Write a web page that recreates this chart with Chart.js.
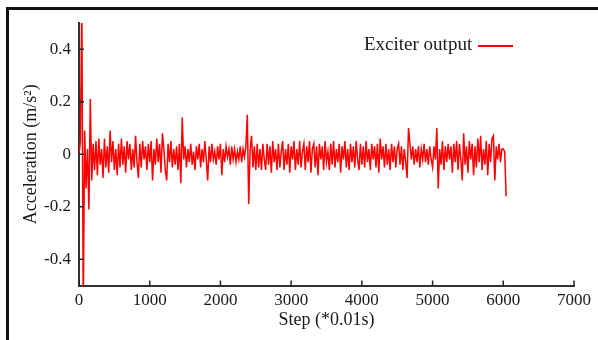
<!DOCTYPE html>
<html>
<head>
<meta charset="utf-8">
<script src="https://cdn.jsdelivr.net/npm/chart.js@4"></script>
<style>
  body { margin: 0; background: #fff; }
  #wrap { position: relative; width: 598px; height: 340px; overflow: hidden; }
  #frame { position: absolute; left: 6px; top: 7px; width: 600px; height: 340px;
           border-left: 3px solid #111; border-top: 3px solid #111; }
  #chart { position: absolute; left: 0; top: 0; }
  #legend { position: absolute; left: 364px; top: 33px; font: 19px 'Liberation Serif', serif; color: #1a1a1a; white-space: nowrap; }
  #legend .swatch { display: inline-block; width: 35px; height: 2px; background: #ff0000; vertical-align: middle; margin-left: 6px; }
</style>
</head>
<body>
<div id="wrap">
  <div id="frame"></div>
  <canvas id="chart" width="598" height="340"></canvas>
  <div id="legend"><span id="legendText"></span><span class="swatch"></span></div>
</div>
<script>
// sample spacing of the recorded signal, in steps
const stepInterval = 20;

// acceleration, one value every 20 steps (0 .. 6040)
const acceleration = [
  0.00, 0.05, 0.60, -0.60, 0.09, -0.13, 0.02, -0.21, 0.21, -0.10,
  0.04, -0.06, 0.05, -0.08, 0.06, -0.04, 0.02, -0.09, 0.06, -0.05,
  0.03, -0.07, 0.09, -0.03, 0.05, -0.06, 0.02, -0.08, 0.04, -0.05,
  0.06, -0.04, 0.03, -0.07, 0.05, -0.02, 0.04, -0.06, 0.02, -0.05,
  0.07, -0.03, -0.09, 0.04, -0.05, 0.05, -0.02, 0.03, -0.06, 0.04,
  -0.03, 0.05, -0.10, 0.02, -0.04, 0.06, -0.03, 0.04, -0.07, 0.08,
  0.02, -0.06, -0.10, 0.04, -0.03, 0.05, -0.05, 0.02, -0.04, 0.03,
  -0.06, 0.04, -0.11, 0.14, -0.02, 0.03, -0.05, 0.02, -0.03, 0.04,
  -0.04, 0.01, -0.06, 0.03, -0.02, 0.04, -0.05, 0.02, -0.03, 0.05,
  -0.02, -0.10, 0.03, -0.03, 0.04, -0.02, 0.01, -0.04, 0.03, -0.02,
  0.04, -0.08, 0.02, -0.03, 0.03, -0.01, 0.02, -0.04, 0.03, -0.02,
  0.02, -0.03, 0.01, -0.02, 0.03, -0.03, 0.02, -0.01, 0.03, 0.15,
  -0.19, 0.02, 0.07, -0.05, 0.03, -0.06, 0.04, -0.05, 0.02, -0.06,
  0.04, -0.02, -0.06, 0.04, -0.04, 0.03, -0.07, 0.05, -0.03, 0.02,
  -0.06, 0.04, -0.05, 0.01, 0.05, -0.06, 0.02, -0.04, 0.04, -0.07,
  0.03, -0.02, 0.05, -0.06, 0.02, -0.04, 0.05, -0.05, 0.01, 0.04,
  -0.06, 0.03, -0.03, 0.05, -0.07, 0.02, 0.04, -0.05, 0.03, -0.08,
  0.04, -0.02, 0.03, -0.06, 0.05, -0.03, 0.01, -0.06, 0.04, -0.04,
  0.05, -0.05, 0.02, -0.03, 0.04, -0.07, 0.03, -0.02, 0.05, -0.05,
  0.02, -0.06, 0.04, -0.03, 0.03, -0.05, 0.05, -0.02, -0.06, 0.04,
  -0.04, 0.03, -0.05, 0.05, -0.03, 0.02, -0.06, 0.04, -0.02, 0.03,
  -0.05, 0.04, -0.07, 0.06, -0.02, 0.03, -0.05, 0.04, -0.04, 0.02,
  -0.06, 0.04, -0.03, 0.03, -0.05, 0.02, 0.04, -0.04, 0.03, -0.06,
  0.02, -0.03, -0.09, 0.10, 0.04, -0.02, 0.03, -0.04, 0.02, -0.03,
  0.03, -0.05, 0.02, -0.02, 0.04, -0.03, 0.02, -0.04, 0.03, -0.02,
  -0.05, 0.03, -0.02, 0.10, -0.13, 0.02, -0.04, 0.05, -0.06, 0.03,
  -0.03, 0.04, -0.02, 0.03, -0.07, 0.04, -0.03, 0.05, -0.06, 0.04,
  -0.02, -0.10, 0.08, -0.04, 0.03, -0.07, 0.05, -0.02, 0.04, -0.08,
  0.03, -0.05, 0.06, -0.03, 0.07, -0.06, 0.02, -0.04, 0.05, -0.08,
  0.04, -0.03, 0.06, 0.07, -0.10, 0.03, -0.02, 0.04, -0.03, 0.02,
  0.02, 0.01, -0.16
];

const seriesName = 'Exciter output';
const xTicks = [0, 1000, 2000, 3000, 4000, 5000, 6000, 7000];
const yTicks = [-0.4, -0.2, 0, 0.2, 0.4];

const serif = "'Liberation Serif', 'Times New Roman', serif";
document.getElementById('legendText').textContent = seriesName;

//short tick marks pointing into the plot, like the original figure
const innerTicks = {
  id: 'innerTicks',
  afterDraw(chart) {
    const {ctx, chartArea, scales} = chart;
    ctx.save();
    ctx.strokeStyle = '#222';
    ctx.lineWidth = 1.5;
    scales.x.ticks.forEach((t) => {
      const px = scales.x.getPixelForValue(t.value);
      ctx.beginPath();
      ctx.moveTo(px, chartArea.bottom);
      ctx.lineTo(px, chartArea.bottom - 5);
      ctx.stroke();
    });
    scales.y.ticks.forEach((t) => {
      const py = scales.y.getPixelForValue(t.value);
      ctx.beginPath();
      ctx.moveTo(chartArea.left, py);
      ctx.lineTo(chartArea.left + 5, py);
      ctx.stroke();
    });
    ctx.restore();
  }
};

new Chart(document.getElementById('chart'), {
  type: 'line',
  data: {
    datasets: [{
      label: seriesName,
      data: acceleration.map((a, i) => ({x: i * stepInterval, y: a})),
      borderColor: '#ff0000',
      borderWidth: 1.5,
      pointRadius: 0,
      tension: 0
    }]
  },
  options: {
    responsive: false,
    animation: false,
    layout: {padding: {top: 23, right: 24, left: 0, bottom: 0}},
    plugins: {legend: {display: false}, tooltip: {enabled: false}},
    scales: {
      x: {
        type: 'linear',
        min: 0,
        max: 7000,
        afterBuildTicks: (s) => { s.ticks = xTicks.map((v) => ({value: v})); },
        afterFit: (s) => { s.height = 54.5; },
        grid: {display: false, drawTicks: false},
        border: {color: '#333', width: 2},
        ticks: {font: {family: serif, size: 17}, color: '#1a1a1a', padding: 5, maxRotation: 0, autoSkip: false, callback: (v) => String(v)},
        title: {display: true, text: 'Step (*0.01s)', font: {family: serif, size: 18}, color: '#1a1a1a', padding: {top: 0, bottom: 9}}
      },
      y: {
        min: -0.5,
        max: 0.5,
        afterBuildTicks: (s) => { s.ticks = yTicks.map((v) => ({value: v})); },
        afterFit: (s) => { s.width = 79; },
        grid: {display: false, drawTicks: false},
        border: {color: '#333', width: 2},
        ticks: {font: {family: serif, size: 17}, color: '#1a1a1a', padding: 8, callback: (v) => String(v)},
        title: {display: true, text: 'Acceleration (m/s²)', font: {family: serif, size: 18}, color: '#1a1a1a', padding: {top: 20, bottom: 0}}
      }
    }
  },
  plugins: [innerTicks]
});
</script>
</body>
</html>
